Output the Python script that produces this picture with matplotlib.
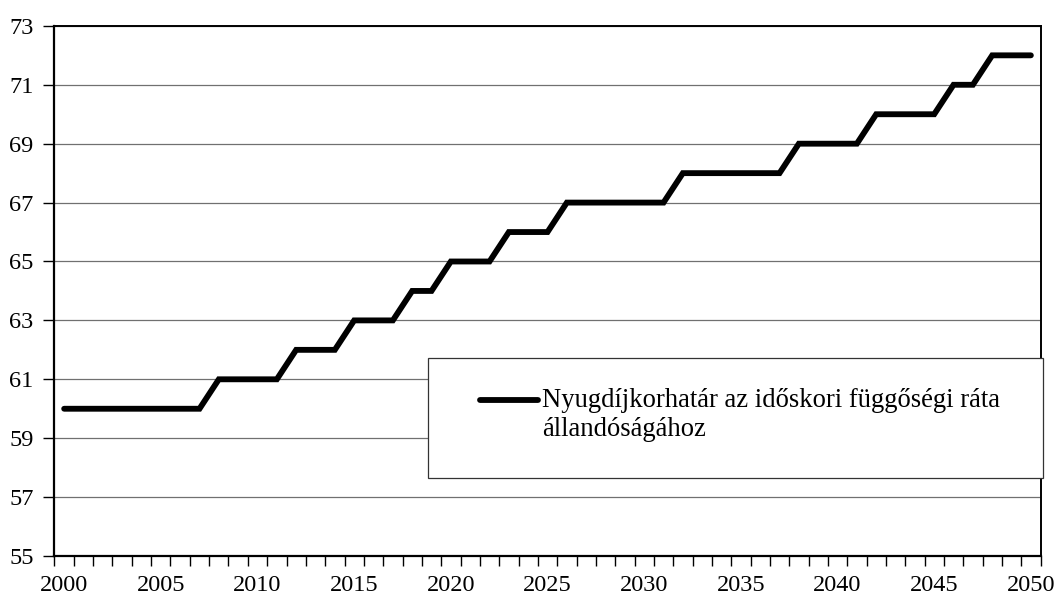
import matplotlib
matplotlib.use('Agg')
import matplotlib.pyplot as plt
import numpy as np
from matplotlib.patches import Rectangle
from matplotlib.lines import Line2D

years = list(range(2000, 2051))
ages = [60, 60, 60, 60, 60, 60, 60, 60,          # 2000-2007
        61, 61, 61, 61,                          # 2008-2011
        62, 62, 62,                              # 2012-2014
        63, 63, 63,                              # 2015-2017
        64, 64,                                  # 2018-2019
        65, 65, 65,                              # 2020-2022
        66, 66, 66,                              # 2023-2025
        67, 67, 67, 67, 67, 67,                  # 2026-2031
        68, 68, 68, 68, 68, 68,                  # 2032-2037
        69, 69, 69, 69,                          # 2038-2041
        70, 70, 70, 70,                          # 2042-2045
        71, 71,                                  # 2046-2047
        72, 72, 72]                              # 2048-2050
y_ticks = [55, 57, 59, 61, 63, 65, 67, 69, 71, 73]
label = 'Nyugdíjkorhatár az időskori függőségi ráta\nállandóságához'

plt.rcParams['font.family'] = ['Liberation Serif', 'DejaVu Serif']
plt.rcParams['font.size'] = 17.5

W, H = 1058, 602
fig = plt.figure(figsize=(W / 100, H / 100), dpi=100)
ax = fig.add_axes([0.0515, 0.0764, 0.932, 0.8806])

pos = np.arange(len(years))
ax.plot(pos, ages, color='black', lw=4.2, solid_capstyle='round',
        solid_joinstyle='miter', zorder=3)

ax.set_xlim(-0.5, len(years) - 0.5)
ax.set_ylim(55, 73)
ax.set_yticks(y_ticks)
ax.grid(axis='y', color='#707070', lw=0.9)

# year labels every 5 categories, tick marks between categories
ax.set_xticks(pos[::5])
ax.set_xticklabels([str(y) for y in years[::5]])
ax.set_xticks(np.arange(-0.5, len(years)), minor=True)
ax.tick_params(axis='x', which='major', length=0, pad=14)
ax.tick_params(axis='x', which='minor', length=7, width=1, direction='out')
ax.tick_params(axis='y', length=8, width=1, direction='out', pad=7)

for s in ['left', 'bottom']:
    ax.spines[s].set_linewidth(1.6)
for s in ['top', 'right']:
    ax.spines[s].set_linewidth(1.4)

# legend box (drawn by hand so the key sits on the first text line)
fig.patches.append(Rectangle((428 / W, 1 - 478 / H), 615 / W, 120 / H,
                             transform=fig.transFigure, facecolor='white',
                             edgecolor='#333333', lw=0.9, zorder=5))
fig.lines.append(Line2D([480 / W, 538 / W], [1 - 400 / H, 1 - 400 / H],
                        transform=fig.transFigure, color='black', lw=4.2,
                        solid_capstyle='round', zorder=6))
fig.text(542 / W, 1 - 415 / H, label, fontsize=19.2, va='center', ha='left',
         linespacing=1.2, zorder=6)

fig.savefig('out.png', dpi=100)
